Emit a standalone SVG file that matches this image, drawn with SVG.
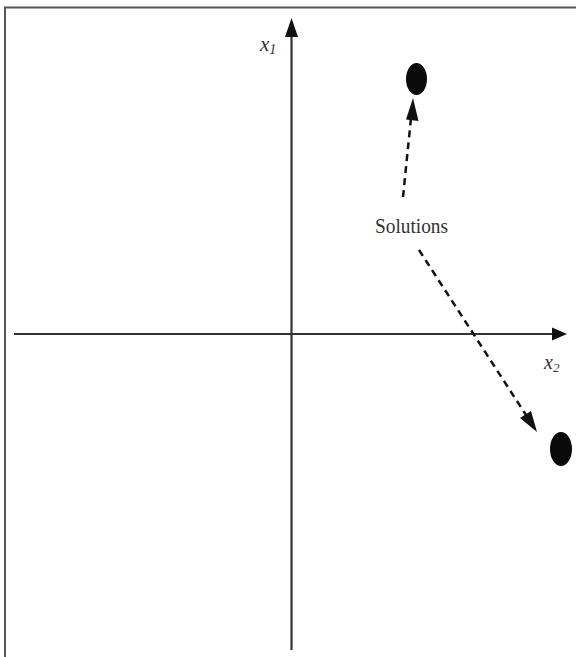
<svg xmlns="http://www.w3.org/2000/svg" width="576" height="657" viewBox="0 0 576 657">
<style>
.frame{stroke:#555;stroke-width:2;fill:none}
.axis{stroke:#333;stroke-width:2.2;fill:none}
.dash{stroke:#111;stroke-width:2.5;stroke-dasharray:7 5;fill:none}
.lbl{font-family:"Liberation Serif",serif;font-style:italic;fill:#333}
.txt{font-family:"Liberation Serif",serif;fill:#333}
.dot{fill:#0a0a0a}
</style>
<rect width="576" height="657" fill="#fff"/>
<path class="frame" d="M5,657 V7.5 H576"/>
<g id="connectors">
<line class="axis" x1="291.5" y1="650" x2="291.5" y2="34"/>
<path d="M291.5,18 L298,37 L285,37 Z" fill="#111"/>
<line class="axis" x1="14" y1="334" x2="552" y2="334"/>
<path d="M567,334 L552,327.5 L552,340.5 Z" fill="#111"/>
<line class="dash" x1="403" y1="197" x2="411" y2="118"/>
<path d="M413,98 L418.5,121 L406,119.5 Z" fill="#111"/>
<line class="dash" x1="419" y1="250" x2="526" y2="415"/>
<path d="M537,432 L520,418 L531,411 Z" fill="#111"/>
</g>
<g id="x1-label"><text class="lbl" x="260" y="51" font-size="21">x<tspan font-size="14" dy="3">1</tspan></text></g>
<g id="x2-label"><text class="lbl" x="544" y="369" font-size="20">x<tspan font-size="13" dy="3">2</tspan></text></g>
<g id="solutions-label"><text class="txt" x="375" y="233" font-size="21" textLength="73" lengthAdjust="spacingAndGlyphs">Solutions</text></g>
<g id="solution1"><ellipse class="dot" cx="416.5" cy="79" rx="10.5" ry="16"/></g>
<g id="solution2"><ellipse class="dot" cx="561" cy="449" rx="11" ry="17"/></g>
</svg>
